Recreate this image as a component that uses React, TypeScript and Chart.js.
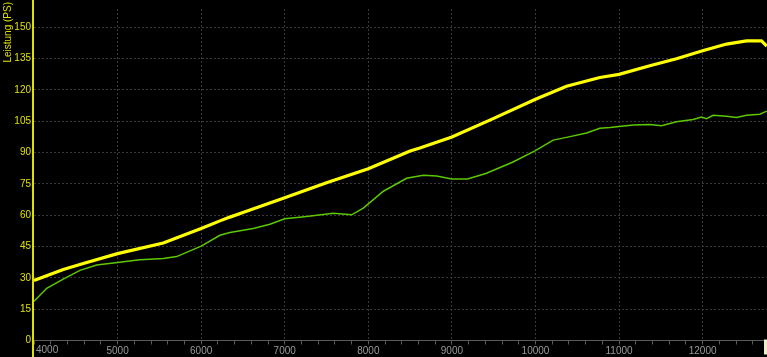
import React, { useEffect, useRef } from 'react';
import { Chart, registerables } from 'chart.js';

Chart.register(...registerables);

// Upper curve (yellow) – rpm / PS
const rpmYellow = [4000, 4350, 4600, 5000, 5547, 6000, 6225, 6344, 6500, 7000, 7500, 8000, 8500, 8617, 9000, 9494, 10000, 10372, 10770, 11000, 11368, 11687, 12000, 12286, 12525, 12704, 12768];
const psYellow = [28.8, 34, 37, 41.6, 46.7, 53.7, 57.3, 59.1, 61.3, 68.4, 75.6, 82.3, 90.8, 92.2, 97.5, 106.3, 115.6, 121.8, 126, 127.5, 131.6, 135, 138.8, 142, 143.5, 143.5, 141];

// Lower curve (green) – rpm / PS
const rpmGreen = [4000, 4152, 4350, 4550, 4750, 5000, 5268, 5547, 5707, 6000, 6225, 6344, 6623, 6823, 7000, 7262, 7580, 7800, 7940, 8180, 8458, 8657, 8817, 9000, 9187, 9406, 9725, 9993, 10212, 10372, 10611, 10770, 10890, 11169, 11368, 11508, 11687, 11886, 11986, 12046, 12126, 12286, 12405, 12525, 12684, 12768];
const psGreen = [18.8, 25, 29.4, 33.6, 36.2, 37.4, 38.7, 39.3, 40.2, 45.2, 50.4, 51.7, 53.7, 55.7, 58.3, 59.4, 61, 60.2, 63.4, 71.5, 77.7, 79.2, 78.8, 77.4, 77.4, 80, 85.4, 90.8, 96, 97.3, 99.4, 101.7, 102, 103.2, 103.5, 102.9, 104.8, 105.9, 107.1, 106.3, 107.9, 107.4, 106.8, 107.9, 108.4, 109.9];

const xMin = 4000;
const xMax = 12770;
const xMajorStep = 1000;
const xMinorStep = 200;
const yMin = 0;
const yMax = 158.8;
const yStep = 15;
const yTitle = 'Leistung (PS)';

const YELLOW = '#ffff00';
const GREEN = '#5cc800';
const AXIS_YELLOW = '#e0e000';
const GRID = '#383838';
const FONT = '"Liberation Sans", Arial, sans-serif';

const isMajor = (v: number) => Math.abs(Math.round(v / xMajorStep) * xMajorStep - v) < 1e-6;

export default function App() {
  const ref = useRef<HTMLCanvasElement>(null);

  useEffect(() => {
    document.body.style.margin = '0';
    document.body.style.background = '#000';
    const canvas = ref.current;
    if (!canvas) return;

    const decor = {
      id: 'decor',
      afterDraw(chart: any) {
        const { ctx, chartArea } = chart;
        ctx.save();
        // yellow y axis line running to the bottom of the canvas
        ctx.strokeStyle = AXIS_YELLOW;
        ctx.lineWidth = 2;
        ctx.beginPath();
        ctx.moveTo(chartArea.left - 1, 0);
        ctx.lineTo(chartArea.left - 1, chart.height);
        ctx.stroke();
        // first x label, left aligned next to the axis
        ctx.fillStyle = '#9a9a9a';
        ctx.font = '10px ' + FONT;
        ctx.textAlign = 'left';
        ctx.textBaseline = 'top';
        ctx.fillText(String(xMin), chartArea.left + 2, chartArea.bottom + 5);
        // y axis title, rotated, at the top
        ctx.save();
        ctx.translate(8, 2);
        ctx.rotate(-Math.PI / 2);
        ctx.fillStyle = AXIS_YELLOW;
        ctx.textAlign = 'right';
        ctx.textBaseline = 'middle';
        ctx.fillText(yTitle, 0, 0);
        ctx.restore();
        // small end marker
        ctx.fillStyle = '#eeeec8';
        ctx.fillRect(chartArea.right - 3, chartArea.bottom - 1, 3, 15);
        ctx.restore();
      },
    };

    const chart = new Chart(canvas, {
      type: 'line',
      data: {
        datasets: [
          {
            label: 'green',
            data: rpmGreen.map((x, i) => ({ x, y: psGreen[i] })),
            borderColor: GREEN,
            borderWidth: 1.5,
            pointRadius: 0,
            tension: 0,
            fill: false,
          },
          {
            label: 'yellow',
            data: rpmYellow.map((x, i) => ({ x, y: psYellow[i] })),
            borderColor: YELLOW,
            borderWidth: 3.2,
            pointRadius: 0,
            tension: 0,
            fill: false,
          },
        ],
      },
      options: {
        animation: false,
        responsive: false,
        devicePixelRatio: 1,
        layout: { padding: 0 },
        plugins: {
          legend: { display: false },
          tooltip: { enabled: false },
        },
        scales: {
          x: {
            type: 'linear',
            min: xMin,
            max: xMax,
            afterFit: (s: any) => {
              s.height = 16.5;
            },
            afterBuildTicks: (s: any) => {
              const t: { value: number }[] = [];
              for (let v = xMin; v <= xMax; v += xMinorStep) t.push({ value: v });
              s.ticks = t;
            },
            ticks: {
              autoSkip: false,
              maxRotation: 0,
              minRotation: 0,
              padding: 1,
              color: '#9a9a9a',
              font: { size: 10, family: FONT },
              callback: (v: any) => (isMajor(v) && v !== xMin ? String(Math.round(v)) : ''),
            },
            grid: {
              color: (c: any) => (c.tick && isMajor(c.tick.value) && c.tick.value !== xMin ? GRID : 'rgba(0,0,0,0)'),
              lineWidth: 1,
              drawTicks: true,
              tickLength: 4,
              tickColor: '#5a5a5a',
            },
            border: { display: true, color: '#5a5a5a', width: 1, dash: [2, 2] },
          },
          y: {
            type: 'linear',
            min: yMin,
            max: yMax,
            afterFit: (s: any) => {
              s.width = 34;
            },
            ticks: {
              stepSize: yStep,
              maxTicksLimit: 50,
              includeBounds: false,
              padding: 3,
              color: AXIS_YELLOW,
              font: { size: 10, family: FONT },
            },
            grid: {
              color: GRID,
              lineWidth: 1,
              drawTicks: false,
            },
            border: { display: false, dash: [2, 2] },
          },
        },
      },
      plugins: [decor],
    } as any);

    return () => chart.destroy();
  }, []);

  return (
    <div style={{ position: 'fixed', left: 0, top: 0, width: 767, height: 357, background: '#000' }}>
      <canvas ref={ref} width={767} height={357} style={{ display: 'block', width: 767, height: 357 }} />
    </div>
  );
}
